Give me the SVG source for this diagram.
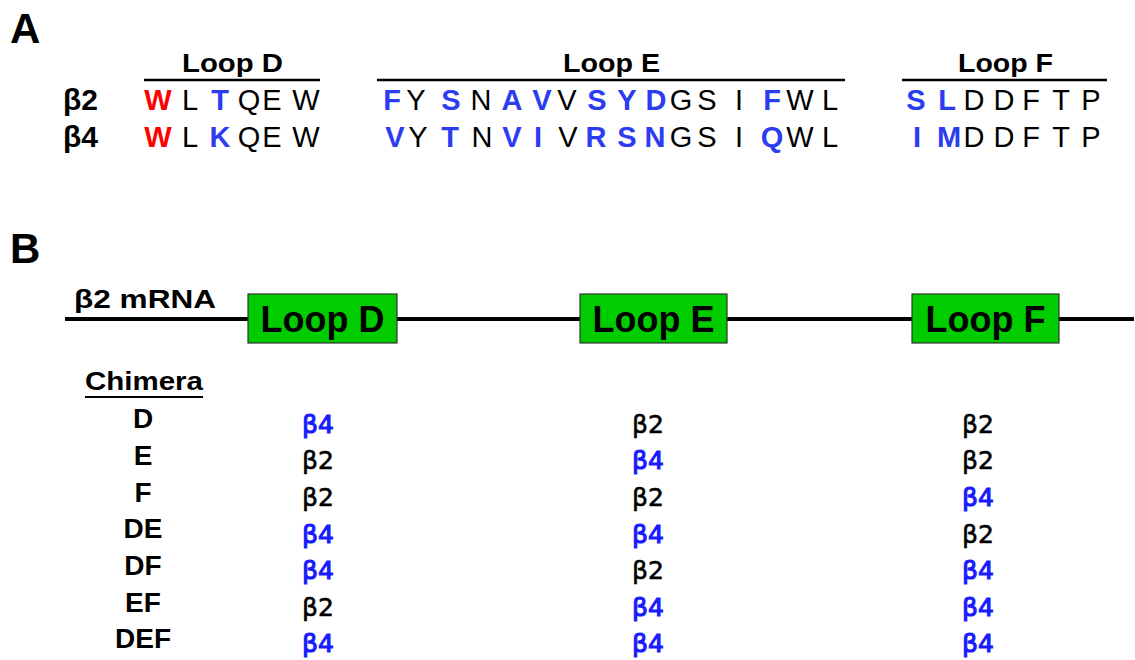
<svg xmlns="http://www.w3.org/2000/svg" width="1135" height="660" viewBox="0 0 1135 660">
<style>
text{font-family:"Liberation Sans",Arial,sans-serif;}
.panel{font-size:42px;font-weight:bold;fill:#000;}
.head{font-size:26px;font-weight:bold;fill:#000;}
.rowlab{font-size:30px;font-weight:bold;fill:#000;}
.seq text{font-size:29px;text-anchor:middle;fill:#000;}
.seq .b{fill:#2c3cf0;font-weight:bold;}
.seq .r{fill:#ff0000;font-weight:bold;}
.rule{stroke:#000;stroke-width:2.5;}
.box{fill:#00cc00;stroke:#333;stroke-width:1.2;}
.boxlab{font-size:36px;font-weight:bold;text-anchor:middle;fill:#000;}
.mrna{stroke:#000;stroke-width:4;}
.chlab{font-size:28px;font-weight:bold;text-anchor:middle;fill:#000;}
.val{font-family:"DejaVu Sans",Verdana,sans-serif;font-size:25px;text-anchor:middle;}
.v2{fill:#000;stroke:#000;stroke-width:0.6;}
.v4{fill:#1a1aff;stroke:#1a1aff;stroke-width:1.1;}
</style>

<g id="panelA">
  <text class="panel" x="10" y="43">A</text>
  <g id="headings">
    <text class="head" x="182" y="72" textLength="101" lengthAdjust="spacingAndGlyphs">Loop D</text>
    <line class="rule" x1="144" y1="80" x2="320" y2="80"/>
    <text class="head" x="563" y="72" textLength="97" lengthAdjust="spacingAndGlyphs">Loop E</text>
    <line class="rule" x1="377" y1="80" x2="845" y2="80"/>
    <text class="head" x="958" y="72" textLength="95" lengthAdjust="spacingAndGlyphs">Loop F</text>
    <line class="rule" x1="902" y1="80" x2="1107" y2="80"/>
  </g>
  <text class="rowlab" x="63" y="110">β2</text>
  <text class="rowlab" x="63" y="147">β4</text>
  <g id="seq-b2" class="seq">
    <text class="r" x="158" y="110">W</text>
    <text x="190" y="110">L</text>
    <text class="b" x="220" y="110">T</text>
    <text x="249" y="110">Q</text>
    <text x="272" y="110">E</text>
    <text x="306" y="110">W</text>

    <text class="b" x="392" y="110">F</text>
    <text x="416" y="110">Y</text>
    <text class="b" x="451" y="110">S</text>
    <text x="481" y="110">N</text>
    <text class="b" x="512" y="110">A</text>
    <text class="b" x="542" y="110">V</text>
    <text x="567" y="110">V</text>
    <text class="b" x="597" y="110">S</text>
    <text class="b" x="627" y="110">Y</text>
    <text class="b" x="656" y="110">D</text>
    <text x="681" y="110">G</text>
    <text x="707" y="110">S</text>
    <text x="739" y="110">I</text>
    <text class="b" x="772" y="110">F</text>
    <text x="800" y="110">W</text>
    <text x="830" y="110">L</text>

    <text class="b" x="916" y="110">S</text>
    <text class="b" x="947" y="110">L</text>
    <text x="974" y="110">D</text>
    <text x="1004" y="110">D</text>
    <text x="1031" y="110">F</text>
    <text x="1061" y="110">T</text>
    <text x="1091" y="110">P</text>
  </g>
  <g id="seq-b4" class="seq">
    <text class="r" x="158" y="147">W</text>
    <text x="190" y="147">L</text>
    <text class="b" x="220" y="147">K</text>
    <text x="249" y="147">Q</text>
    <text x="272" y="147">E</text>
    <text x="306" y="147">W</text>

    <text class="b" x="395" y="147">V</text>
    <text x="418" y="147">Y</text>
    <text class="b" x="450" y="147">T</text>
    <text x="482" y="147">N</text>
    <text class="b" x="512" y="147">V</text>
    <text class="b" x="538" y="147">I</text>
    <text x="568" y="147">V</text>
    <text class="b" x="596" y="147">R</text>
    <text class="b" x="627" y="147">S</text>
    <text class="b" x="655" y="147">N</text>
    <text x="681" y="147">G</text>
    <text x="707" y="147">S</text>
    <text x="739" y="147">I</text>
    <text class="b" x="772" y="147">Q</text>
    <text x="800" y="147">W</text>
    <text x="830" y="147">L</text>

    <text class="b" x="917" y="147">I</text>
    <text class="b" x="949" y="147">M</text>
    <text x="974" y="147">D</text>
    <text x="1004" y="147">D</text>
    <text x="1031" y="147">F</text>
    <text x="1061" y="147">T</text>
    <text x="1091" y="147">P</text>
  </g>
</g>

<g id="panelB">
  <text class="panel" x="10" y="263">B</text>
  <text class="head" x="74" y="308" font-size="28" textLength="142" lengthAdjust="spacingAndGlyphs">β2 mRNA</text>
</g>

<g id="connectors">
  <line class="mrna" x1="65" y1="319" x2="248" y2="319"/>
  <line class="mrna" x1="397" y1="319" x2="580" y2="319"/>
  <line class="mrna" x1="727" y1="319" x2="912" y2="319"/>
  <line class="mrna" x1="1059" y1="319" x2="1134" y2="319"/>
</g>

<g id="loopD-box">
  <rect class="box" x="248" y="294" width="149" height="49"/>
  <text class="boxlab" x="322.5" y="332">Loop D</text>
</g>
<g id="loopE-box">
  <rect class="box" x="580" y="294" width="147" height="49"/>
  <text class="boxlab" x="653.5" y="332">Loop E</text>
</g>
<g id="loopF-box">
  <rect class="box" x="912" y="294" width="147" height="49"/>
  <text class="boxlab" x="985.5" y="332">Loop F</text>
</g>

<g id="chimera-table">
  <text class="head" x="85" y="390" textLength="118" lengthAdjust="spacingAndGlyphs">Chimera</text>
  <line stroke="#000" stroke-width="2" x1="85" y1="397" x2="203" y2="397"/>
  <g id="row-D">
    <text class="chlab" x="143" y="428">D</text>
    <text class="val v4" x="318" y="433">β4</text>
    <text class="val v2" x="648" y="433">β2</text>
    <text class="val v2" x="978" y="433">β2</text>
  </g>
  <g id="row-E">
    <text class="chlab" x="143" y="465">E</text>
    <text class="val v2" x="318" y="469">β2</text>
    <text class="val v4" x="648" y="469">β4</text>
    <text class="val v2" x="978" y="469">β2</text>
  </g>
  <g id="row-F">
    <text class="chlab" x="143" y="502">F</text>
    <text class="val v2" x="318" y="506">β2</text>
    <text class="val v2" x="648" y="506">β2</text>
    <text class="val v4" x="978" y="506">β4</text>
  </g>
  <g id="row-DE">
    <text class="chlab" x="143" y="538">DE</text>
    <text class="val v4" x="318" y="543">β4</text>
    <text class="val v4" x="648" y="543">β4</text>
    <text class="val v2" x="978" y="543">β2</text>
  </g>
  <g id="row-DF">
    <text class="chlab" x="143" y="575">DF</text>
    <text class="val v4" x="318" y="579">β4</text>
    <text class="val v2" x="648" y="579">β2</text>
    <text class="val v4" x="978" y="579">β4</text>
  </g>
  <g id="row-EF">
    <text class="chlab" x="143" y="612">EF</text>
    <text class="val v2" x="318" y="616">β2</text>
    <text class="val v4" x="648" y="616">β4</text>
    <text class="val v4" x="978" y="616">β4</text>
  </g>
  <g id="row-DEF">
    <text class="chlab" x="143" y="648">DEF</text>
    <text class="val v4" x="318" y="652">β4</text>
    <text class="val v4" x="648" y="652">β4</text>
    <text class="val v4" x="978" y="652">β4</text>
  </g>
</g>
</svg>
